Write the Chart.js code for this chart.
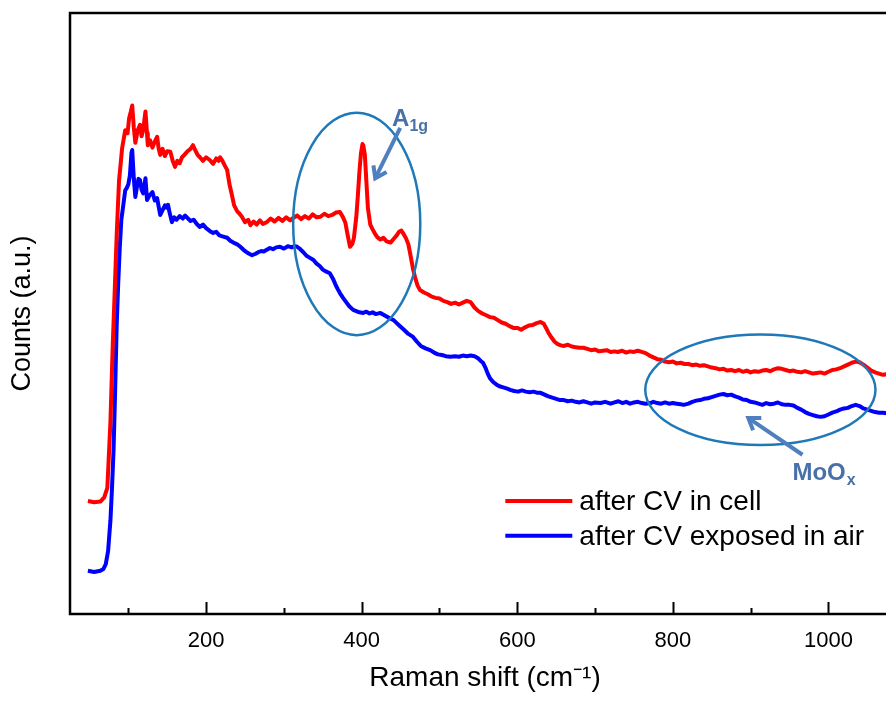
<!DOCTYPE html>
<html>
<head>
<meta charset="utf-8">
<script src="https://cdn.jsdelivr.net/npm/chart.js@4/dist/chart.umd.min.js"></script>
<style>
  html, body { margin: 0; padding: 0; background: #fff; overflow: hidden; }
  #wrap { width: 886px; height: 705px; overflow: hidden; }
</style>
</head>
<body>
<div id="wrap"><canvas id="raman" width="900" height="705"></canvas></div>
<script>
// Raman shift (cm-1) and counts (a.u.)
const redX = [48,56,64,69,73,77,80,82,85,88,92,96,99,101,103,105,107,109,112,115,117,119,122,124,125,128,131,134,137,139,141,144,147,150,154,157,160,163,166,169,172,176,180,183,186,189,192,196,200,205,209,213,216,218,221,224,227,230,233,236,240,243,246,250,254,257,261,265,269,273,278,283,288,293,298,303,308,312,317,322,327,332,337,342,347,352,357,362,367,372,376,379,382,385,388,390,393,395,397,399,401,402,404,406,408,411,414,417,420,424,428,432,437,441,445,448,451,454,457,460,463,466,469,472,475,480,485,490,495,500,505,510,515,520,525,530,535,540,545,550,555,560,565,570,575,580,585,590,595,600,605,610,615,620,625,630,634,637,640,644,648,652,656,660,665,670,675,680,685,690,695,700,705,710,715,720,725,729,735,740,745,750,755,760,765,770,775,780,785,790,795,800,805,810,815,820,825,830,835,840,845,850,855,860,865,870,875,880,885,890,895,900,905,910,915,920,925,930,935,940,945,950,955,960,965,970,975,980,985,990,995,1000,1005,1010,1015,1020,1025,1030,1035,1040,1045,1050,1055,1060,1065,1070,1075,1080,1090];
const redY = [18.8,18.6,18.7,19.4,21.0,32,45,52,63,72,77.5,80.5,80,82.5,83.5,84.6,81,78.4,80.5,81.4,79.5,80.5,83.6,80,78.0,78.8,77.6,78.6,79.4,77.4,76.4,77.4,76.2,77.0,76.9,75.4,74.4,75.4,75.0,76.0,76.4,77.0,77.4,78.0,77.2,76.4,76.0,75.4,76.0,75.5,74.9,75.8,75.4,76.0,75.4,74.6,73.9,71.5,69.8,68.0,67.0,66.6,66.1,65.2,65.6,64.7,65.3,64.8,65.5,64.9,65.2,65.8,65.3,65.9,65.4,66.0,65.5,65.9,66.3,65.7,66.2,65.8,66.5,66.0,66.1,66.6,66.2,66.4,66.8,66.9,66.0,65.1,63.0,61.1,61.6,62.6,66,69.5,73.5,76.6,78.2,78.0,76.5,72.0,67.5,64.8,64.0,63.3,62.7,62.3,62.6,62.0,61.8,62.4,63.0,63.6,63.8,63.2,62.5,61.5,59.5,57.4,55.8,54.6,53.9,53.5,53.2,52.8,52.6,52.5,52.1,51.9,51.6,51.8,51.5,51.8,52.1,51.9,51.0,50.4,50.0,49.7,49.4,49.3,48.9,48.5,48.3,47.9,47.6,47.6,47.3,47.7,48.0,48.1,48.4,48.6,48.3,47.6,46.8,46.0,45.3,44.9,44.7,44.6,44.8,44.5,44.4,44.3,44.3,44.1,43.9,44.0,43.7,43.8,43.9,43.6,43.7,43.6,43.8,43.5,43.7,43.6,43.8,43.6,43.4,43.0,42.7,42.4,42.3,42.0,41.9,42.0,41.7,41.8,41.6,41.6,41.4,41.5,41.3,41.4,41.2,41.0,40.9,40.7,40.8,40.5,40.6,40.4,40.6,40.3,40.5,40.2,40.4,40.3,40.5,40.6,40.4,40.7,40.9,40.8,40.6,40.4,40.5,40.3,40.2,40.4,40.2,40.0,40.1,40.2,40.0,40.3,40.6,40.7,40.9,41.2,41.5,41.8,42.0,41.9,41.5,41.0,40.5,40.2,40.0,39.8,39.9,39.7,39.5];

const blueX = [48,56,64,68,71,74,77,79,81,83,85,87,89,91,94,96,98,100,102,104,105,107,109,111,113,115,117,119,121,122,124,127,131,134,137,139,141,144,147,149,151,153,156,159,162,166,170,173,176,180,184,188,192,196,200,205,209,213,217,222,227,231,235,240,244,248,252,256,259,263,267,271,274,278,282,286,290,295,300,305,310,314,317,321,325,329,333,338,342,346,350,354,359,363,366,369,372,376,380,384,389,393,397,402,406,410,414,418,424,428,432,436,441,445,450,455,460,466,471,476,482,488,493,498,503,508,514,520,525,530,535,540,545,550,553,556,559,562,565,569,573,577,582,587,591,596,601,606,611,616,621,626,630,635,640,645,650,655,660,665,670,675,680,685,690,695,700,707,713,720,725,730,735,740,745,750,755,760,765,771,775,780,785,790,795,800,805,810,814,820,825,830,835,840,845,850,855,860,865,870,875,880,885,890,895,900,905,910,915,920,925,930,935,940,945,950,955,960,965,970,975,980,985,990,995,1000,1005,1010,1015,1020,1025,1030,1035,1040,1045,1050,1055,1060,1065,1070,1075,1080,1090];
const blueY = [7.2,7.0,7.2,7.5,8.3,10.5,15.6,21,27.3,37,48,55.1,61,65.6,68.5,70.5,70.9,71.5,73.0,76.7,77.2,72.5,69.4,71.0,72.4,72.2,70.6,70.0,71.6,72.5,68.9,69.6,70.2,68.8,69.2,67.8,66.4,67.2,68.0,67.6,68.1,66.8,65.2,66.0,65.6,66.2,65.8,66.3,65.9,65.4,65.6,64.9,64.4,64.8,64.2,63.7,63.4,63.6,63.0,62.8,62.6,62.1,61.8,61.5,61.1,60.6,60.2,59.9,59.7,59.9,60.2,60.4,60.3,60.6,60.9,60.7,61.0,61.1,60.8,61.2,61.0,61.2,61.1,60.7,60.2,59.6,59.3,58.9,58.3,57.9,57.3,57.0,56.7,55.8,54.9,54.1,53.4,52.6,51.9,51.2,50.6,50.4,50.2,50.1,50.3,50.0,50.2,49.9,50.1,49.8,49.5,49.2,48.9,48.4,47.8,47.2,46.6,46.1,45.3,44.6,44.2,43.9,43.5,43.2,43.1,42.9,42.8,42.9,42.8,43.0,42.9,43.0,42.9,42.5,42.1,41.8,41.0,40.0,39.2,38.6,38.2,37.9,37.7,37.5,37.3,37.1,37.0,37.2,37.0,36.9,37.0,36.8,36.8,36.5,36.2,36.0,35.8,35.6,35.6,35.4,35.5,35.3,35.2,35.4,35.2,35.0,35.2,35.1,35.3,35.0,35.2,35.4,35.1,35.3,35.0,35.2,35.3,35.1,35.0,35.1,35.3,35.1,35.0,35.2,35.0,35.1,35.0,34.9,34.8,35.0,35.3,35.5,35.6,35.8,35.9,36.1,36.3,36.5,36.6,36.4,36.5,36.2,36.0,35.7,35.6,35.3,35.2,35.0,34.8,35.1,34.9,35.0,35.2,34.9,34.8,34.8,34.7,34.3,34.0,33.6,33.3,33.1,32.9,32.8,32.9,33.2,33.5,33.7,34.0,34.2,34.3,34.6,34.8,34.6,34.2,34.0,33.8,33.6,33.5,33.5,33.4,33.3,33.1];

const seriesNames = ['after CV in cell', 'after CV exposed in air'];
const seriesColors = ['#ff0000', '#0000ff'];
const majorTicks = [200, 400, 600, 800, 1000];
const minorTicks = [100, 300, 500, 700, 900, 1100];

const font = "'Liberation Sans', Arial, sans-serif";
const noteColor = '#4a70a8';

const toPoints = (xs, ys) => xs.map((x, i) => ({ x: x, y: ys[i] }));

// callouts (ellipse centres / radii, arrows) in data units
const ellipses = [
    { cx: 393.6, cy: 64.9, rx: 81.7, ry: 18.5 },
    { cx: 912.5, cy: 37.3, rx: 148, ry: 9.2 }
];
const arrows = [
    { from: [449.5, 80.9], to: [417.4, 72.5] },
    { from: [966.6, 26.5], to: [897, 32.6] }
];

const drawArrow = (ctx, x1, y1, x2, y2) => {
    const ang = Math.atan2(y2 - y1, x2 - x1);
    const head = 13;
    ctx.beginPath();
    ctx.moveTo(x1, y1);
    ctx.lineTo(x2 - Math.cos(ang) * 2, y2 - Math.sin(ang) * 2);
    ctx.stroke();
    ctx.beginPath();
    ctx.moveTo(x2 - head * Math.cos(ang - 0.6), y2 - head * Math.sin(ang - 0.6));
    ctx.lineTo(x2, y2);
    ctx.lineTo(x2 - head * Math.cos(ang + 0.6), y2 - head * Math.sin(ang + 0.6));
    ctx.stroke();
};

const overlay = {
    id: 'overlay',
    afterDatasetsDraw(chart) {
        const { ctx, chartArea: a, scales: { x, y } } = chart;
        ctx.save();

        // frame (right side runs off the page)
        ctx.strokeStyle = '#000';
        ctx.lineWidth = 2.5;
        ctx.beginPath();
        ctx.moveTo(a.right + 10, a.top);
        ctx.lineTo(a.left, a.top);
        ctx.lineTo(a.left, a.bottom);
        ctx.lineTo(a.right + 10, a.bottom);
        ctx.stroke();

        // inward ticks
        ctx.lineWidth = 2;
        ctx.beginPath();
        majorTicks.forEach(v => {
            const px = Math.round(x.getPixelForValue(v)) + 0.5;
            ctx.moveTo(px, a.bottom); ctx.lineTo(px, a.bottom - 12);
        });
        minorTicks.forEach(v => {
            const px = Math.round(x.getPixelForValue(v)) + 0.5;
            ctx.moveTo(px, a.bottom); ctx.lineTo(px, a.bottom - 6);
        });
        ctx.stroke();

        // ellipses
        ctx.strokeStyle = '#1f78b8';
        ctx.lineWidth = 2.5;
        ellipses.forEach(e => {
            const cx = x.getPixelForValue(e.cx), cy = y.getPixelForValue(e.cy);
            const rx = x.getPixelForValue(e.cx + e.rx) - cx;
            const ry = cy - y.getPixelForValue(e.cy + e.ry);
            ctx.beginPath();
            ctx.ellipse(cx, cy, rx, ry, 0, 0, Math.PI * 2);
            ctx.stroke();
        });

        // arrows
        ctx.strokeStyle = '#4f7fbf';
        ctx.lineWidth = 4;
        ctx.lineCap = 'butt';
        arrows.forEach(r => {
            drawArrow(ctx, x.getPixelForValue(r.from[0]), y.getPixelForValue(r.from[1]),
                x.getPixelForValue(r.to[0]), y.getPixelForValue(r.to[1]));
        });

        // labels
        ctx.fillStyle = noteColor;
        ctx.textBaseline = 'alphabetic';
        let lx = x.getPixelForValue(439), ly = y.getPixelForValue(81.2);
        ctx.font = 'bold 24px ' + font;
        ctx.fillText('A', lx, ly);
        lx += ctx.measureText('A').width;
        ctx.font = 'bold 16px ' + font;
        ctx.fillText('1g', lx, ly + 5);

        lx = x.getPixelForValue(953.7); ly = y.getPixelForValue(22.3);
        ctx.font = 'bold 24px ' + font;
        ctx.fillText('MoO', lx, ly);
        lx += ctx.measureText('MoO').width;
        ctx.font = 'bold 16px ' + font;
        ctx.fillText('x', lx + 1, ly + 5);

        // legend
        ctx.font = '28px ' + font;
        ctx.textBaseline = 'middle';
        ctx.lineWidth = 4;
        chart.data.datasets.forEach((ds, i) => {
            const yy = y.getPixelForValue(18.8 - i * 5.8);
            const x0 = x.getPixelForValue(584.6);
            ctx.strokeStyle = ds.borderColor;
            ctx.beginPath();
            ctx.moveTo(x0, yy); ctx.lineTo(x0 + 67, yy);
            ctx.stroke();
            ctx.fillStyle = '#000';
            ctx.fillText(ds.label, x0 + 74, yy + 1);
        });
        ctx.restore();
    }
};

new Chart(document.getElementById('raman'), {
    type: 'line',
    data: {
        datasets: [
            { label: seriesNames[0], data: toPoints(redX, redY), borderColor: seriesColors[0], borderWidth: 4 },
            { label: seriesNames[1], data: toPoints(blueX, blueY), borderColor: seriesColors[1], borderWidth: 4 }
        ]
    },
    options: {
        responsive: false,
        animation: false,
        devicePixelRatio: 1,
        elements: { point: { radius: 0 }, line: { tension: 0, borderJoinStyle: 'round' } },
        layout: { padding: { top: 13, right: 0, left: 0, bottom: 0 } },
        scales: {
            x: {
                type: 'linear',
                min: 25,
                max: 1092,
                afterBuildTicks: (scale) => { scale.ticks = majorTicks.map(v => ({ value: v })); },
                afterFit: (scale) => { scale.height = 91; },
                grid: { display: false, drawTicks: false },
                border: { display: false },
                ticks: { color: '#000', font: { family: font, size: 22 }, padding: 14, maxRotation: 0, callback: (v) => String(v) },
                title: {
                    display: true,
                    text: 'Raman shift (cm\u207B\u00B9)',
                    color: '#000',
                    font: { family: font, size: 28 },
                    padding: { top: 0, bottom: 10 }
                }
            },
            y: {
                min: 0,
                max: 100,
                afterFit: (scale) => { scale.width = 70; },
                grid: { display: false, drawTicks: false },
                border: { display: false },
                ticks: { display: false },
                title: {
                    display: true,
                    text: 'Counts (a.u.)',
                    color: '#000',
                    font: { family: font, size: 27 },
                    padding: { top: 6, bottom: 6 }
                }
            }
        },
        plugins: { legend: { display: false }, tooltip: { enabled: false } }
    },
    plugins: [overlay]
});
</script>
</body>
</html>
